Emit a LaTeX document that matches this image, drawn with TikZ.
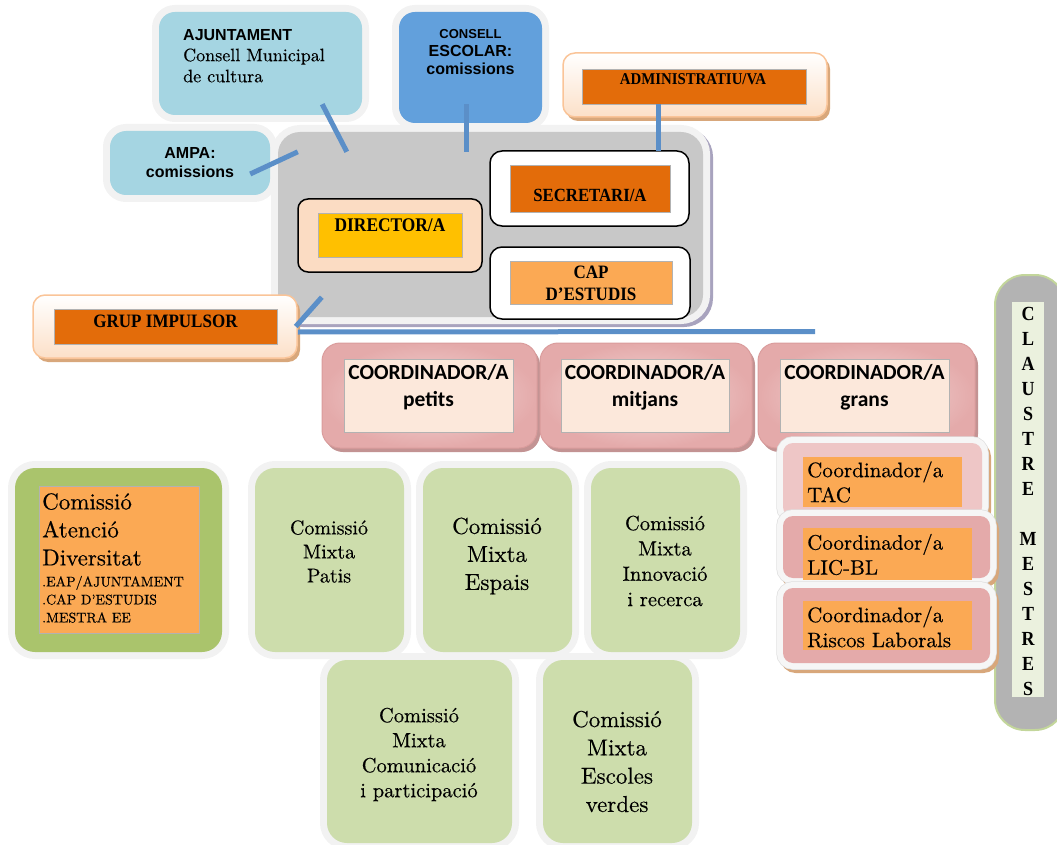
\documentclass[tikz,border=0pt]{standalone}
\usepackage{fontspec}
\setmainfont{lmroman10-regular.otf}[FakeBold=0.4]
\newfontfamily\arialfont{Liberation Sans}
\newfontfamily\timesfont{Liberation Serif}[FakeStretch=0.9]
\newfontfamily\calibrifont{Carlito}
\newcommand{\fsz}[2]{\fontsize{#1}{#2}\selectfont}
\usetikzlibrary{calc, positioning}

\definecolor{haloGray}{HTML}{F2F2F2}
\definecolor{haloWhite}{HTML}{F6F6F6}
\definecolor{blueLight}{HTML}{A5D5E2}
\definecolor{blueMid}{HTML}{62A0DC}
\definecolor{linkBlue}{HTML}{5B8FC8}
\definecolor{orangeDark}{HTML}{E36C0A}
\definecolor{orangeLight}{HTML}{FBA954}
\definecolor{yellowDir}{HTML}{FFC000}
\definecolor{peachDir}{HTML}{FBDCC3}
\definecolor{peachPale}{HTML}{FCE8DB}
\definecolor{peachFill}{HTML}{FCE0C8}
\definecolor{peachLine}{HTML}{FAC498}
\definecolor{tanShadow}{HTML}{D8A77B}
\definecolor{grayBox}{HTML}{C8C8C8}
\definecolor{purpleShadow}{HTML}{A8A3BE}
\definecolor{greenDark}{HTML}{AAC46C}
\definecolor{greenLight}{HTML}{CDDDAC}
\definecolor{pinkPale}{HTML}{F4DADA}
\definecolor{pinkMid}{HTML}{E4AAAA}
\definecolor{pinkLine}{HTML}{DA9C9C}
\definecolor{pinkShadow}{HTML}{C39393}
\definecolor{pinkLight}{HTML}{EEC6C6}
\definecolor{claustreGray}{HTML}{B3B3B3}
\definecolor{claustreLine}{HTML}{C3D69B}
\definecolor{claustrePale}{HTML}{EBF1DE}

\begin{document}
\begin{tikzpicture}[
    x=1pt, y=-1pt,
    boxsize/.style 2 args={minimum width=#1pt, minimum height=#2pt},
    card/.style={rectangle, rounded corners=16pt, inner sep=0pt},
    plate/.style={rectangle, inner sep=0pt, draw=black!30, line width=.4pt},
    halo/.style={preaction={draw=haloGray, line width=14pt}},
    dropshade/.style={preaction={fill=#1, transform canvas={shift={(3pt,-4pt)}}}},
    peachbox/.style={card, rounded corners=12pt, draw=peachLine, line width=1.5pt,
        top color=white, bottom color=peachFill, dropshade=tanShadow},
    coordbox/.style={card, rounded corners=18pt, draw=pinkLine, line width=1pt,
        inner color=pinkPale, outer color=pinkMid, dropshade=pinkShadow},
    sidebox/.style={card, rounded corners=10pt,
        preaction={draw=tanShadow, line width=12pt, transform canvas={shift={(3pt,-4pt)}}},
        preaction={draw=black!12, line width=13.5pt},
        preaction={draw=haloWhite, line width=12pt}},
    greenbox/.style={card, rounded corners=20pt, fill=greenLight, halo},
    txt/.style={inner sep=0pt, align=center, text=black},
    link/.style={draw=linkBlue, line width=5pt}
]
    \useasboundingbox (0,0) rectangle (1057,845);

    % Top nodes ----------------------------------------------------

    \node[card, boxsize={203}{103}, fill=blueLight, halo] (ajunt) at (260.5,63.5) {};
    \node[txt, anchor=north west, align=left, font=\fsz{18}{21}] (ajuntTxt) at (183,29)
        {{\arialfont\bfseries\fsz{16}{19}AJUNTAMENT}\\Consell Municipal\\de cultura};

    \node[card, boxsize={160}{64}, fill=blueLight, halo] (ampa) at (190,163) {};
    \node[txt, font=\arialfont\bfseries\fsz{16}{19}] (ampaTxt) at (190,162.5) {AMPA:\\comissions};

    \node[card, boxsize={143}{111}, fill=blueMid, halo] (consell) at (470.5,67.5) {};
    \node[txt, font=\arialfont\bfseries\fsz{16}{18}] (consellTxt) at (470.5,52)
        {{\fsz{13}{18}CONSELL}\\ESCOLAR:\\comissions};

    \node[peachbox, boxsize={264}{64}] (admin) at (695,85) {};
    \node[plate, boxsize={224}{35}, fill=orangeDark] (adminIn) at (694,86.5) {};
    \node[txt, font=\timesfont\bfseries\fsz{16.5}{18}] (adminTxt) at (693,79) {ADMINISTRATIU/VA};

    % Equip directiu -----------------------------------------------

    \node[card, rounded corners=22pt, boxsize={425}{185}, fill=grayBox,
        preaction={draw=purpleShadow, line width=14pt, transform canvas={shift={(3pt,-3pt)}}},
        halo] (govern) at (490.5,224.5) {};

    \node[card, rounded corners=10pt, boxsize={184}{73}, fill=peachDir, draw=black, line width=1.5pt] (director) at (390,235.5) {};
    \node[plate, boxsize={144}{44}, fill=yellowDir] (directorIn) at (390,235) {};
    \node[txt, font=\timesfont\bfseries\fsz{19.3}{22}] (directorTxt) at (390,225) {DIRECTOR/A};

    \node[card, rounded corners=12pt, boxsize={199}{75}, fill=white, draw=black, line width=1.5pt] (secret) at (589.5,188.5) {};
    \node[plate, boxsize={160}{47}, fill=orangeDark] (secretIn) at (590,188.5) {};
    \node[txt, font=\timesfont\bfseries\fsz{18.6}{22}] (secretTxt) at (590,195) {SECRETARI/A};

    \node[card, rounded corners=12pt, boxsize={200}{72}, fill=white, draw=black, line width=1.5pt] (cap) at (590,283) {};
    \node[plate, boxsize={162}{43}, fill=orangeLight] (capIn) at (591,282.5) {};
    \node[txt, font=\timesfont\bfseries\fsz{18.9}{22}] (capTxt) at (591,283) {CAP\\D’ESTUDIS};

    \node[peachbox, boxsize={264}{63}] (grup) at (165,326.5) {};
    \node[plate, boxsize={223}{35}, fill=orangeDark] (grupIn) at (165.5,326.5) {};
    \node[txt, font=\timesfont\bfseries\fsz{18.9}{22}] (grupTxt) at (165.5,321) {GRUP IMPULSOR};

    % Coordinadors -------------------------------------------------

    \node[coordbox, boxsize={215}{105}] (coordP) at (429.5,395.5) {};
    \node[plate, boxsize={169}{73}, fill=peachPale] (coordPIn) at (428.5,395.5) {};
    \node[txt, font=\calibrifont\bfseries\fsz{21.5}{27}] (coordPTxt) at (428.5,387) {COORDINADOR/A\\petits};

    \node[coordbox, boxsize={212}{105}] (coordM) at (646,395.5) {};
    \node[plate, boxsize={168}{73}, fill=peachPale] (coordMIn) at (645,395.5) {};
    \node[txt, font=\calibrifont\bfseries\fsz{21.5}{27}] (coordMTxt) at (645,387) {COORDINADOR/A\\mitjans};

    \node[coordbox, boxsize={217}{105}] (coordG) at (866.5,395.5) {};
    \node[plate, boxsize={169}{73}, fill=peachPale] (coordGIn) at (864.5,395.5) {};
    \node[txt, font=\calibrifont\bfseries\fsz{21.5}{27}] (coordGTxt) at (864.5,387) {COORDINADOR/A\\grans};

    % Claustre -----------------------------------------------------

    \node[card, rounded corners=30pt, boxsize={70}{455}, fill=claustreGray, draw=claustreLine, line width=2pt] (claustre) at (1030,502.5) {};
    \node[plate, boxsize={32}{395}, fill=claustrePale, draw=none] (claustreIn) at (1028,499.5) {};
    \node[txt, font=\timesfont\bfseries\fsz{20}{25}] (claustreTxt) at (1028,501.5)
        {C\\L\\A\\U\\S\\T\\R\\E\\[25pt]M\\E\\S\\T\\R\\E\\S};

    \node[sidebox, boxsize={199}{74}, fill=pinkLight] (tac) at (882.5,480) {};
    \node[plate, boxsize={159}{50}, fill=orangeLight, draw=none] (tacIn) at (882.5,482) {};
    \node[txt, anchor=west, align=left, font=\fsz{21}{25}] (tacTxt) at (807,482) {Coordinador/a\\TAC};

    \node[sidebox, boxsize={207}{62}, fill=pinkMid] (lic) at (886.5,547) {};
    \node[plate, boxsize={169}{52}, fill=orangeLight, draw=none] (licIn) at (887.5,554) {};
    \node[txt, anchor=west, align=left, font=\fsz{21}{25}] (licTxt) at (807,554.5) {Coordinador/a\\LIC-BL};

    \node[sidebox, boxsize={207}{75}, fill=pinkMid] (riscos) at (886.5,625.5) {};
    \node[plate, boxsize={169}{49}, fill=orangeLight, draw=none] (riscosIn) at (887.5,625.5) {};
    \node[txt, anchor=west, align=left, font=\fsz{21}{25}] (riscosTxt) at (807,627) {Coordinador/a\\Riscos Laborals};

    % Comissions ---------------------------------------------------

    \node[card, rounded corners=20pt, boxsize={207}{184}, fill=greenDark, halo] (diver) at (118.5,560) {};
    \node[plate, boxsize={160}{147}, fill=orangeLight] (diverIn) at (119,559.5) {};
    \node[txt, anchor=north west, align=left, font=\fsz{23}{28}] (diverTxt) at (42,493)
        {Comissió\\Atenció\\Diversitat\\[-7pt]\fsz{14}{18}.EAP/AJUNTAMENT\\[-10pt]\fsz{14}{18}.CAP D’ESTUDIS\\[-10pt]\fsz{14}{18}.MESTRA EE};

    \node[greenbox, boxsize={149}{184}] (patis) at (329.5,560) {};
    \node[txt, font=\fsz{20}{24}] (patisTxt) at (329,551.5) {Comissió\\Mixta\\Patis};

    \node[greenbox, boxsize={149}{184}] (espais) at (497.5,560) {};
    \node[txt, font=\fsz{23}{28}] (espaisTxt) at (497,556) {Comissió\\Mixta\\Espais};

    \node[greenbox, boxsize={149}{184}] (innov) at (665.5,560) {};
    \node[txt, font=\fsz{20.5}{25.3}] (innovTxt) at (665,561) {Comissió\\Mixta\\Innovació\\i recerca};

    \node[greenbox, boxsize={185}{183}] (comun) at (419.5,751.5) {};
    \node[txt, font=\fsz{20.5}{25}] (comunTxt) at (419,754.5) {Comissió\\Mixta\\Comunicació\\i participació};

    \node[greenbox, boxsize={149}{183}] (escoles) at (617.5,751.5) {};
    \node[txt, font=\fsz{23}{28.3}] (escolesTxt) at (617,761.5) {Comissió\\Mixta\\Escoles\\verdes};

    % Connectors ---------------------------------------------------

    \draw[link] ($(ampa.east)+(-20,11)$) -- ($(govern.north west)+(20,20)$);
    \draw[link] ($(ajunt.south east)+(-40,-11)$) -- ($(govern.north west)+(69,20)$);
    \draw[link] ($(consell.south)+(-4,-19)$) -- ($(govern.north)+(-24,20)$);
    \draw[link] ($(adminIn.south)+(-36,0)$) -- ($(secret.north)+(68.5,1)$);
    \draw[link] ($(govern.south west)+(44,-20)$) -- ($(grup.east)+(-2,0)$);
    \draw[link] ($(grup.east)+(0,5.5)$) -- ($(coordG.north)+(-51.5,-11)$);

\end{tikzpicture}
\end{document}
